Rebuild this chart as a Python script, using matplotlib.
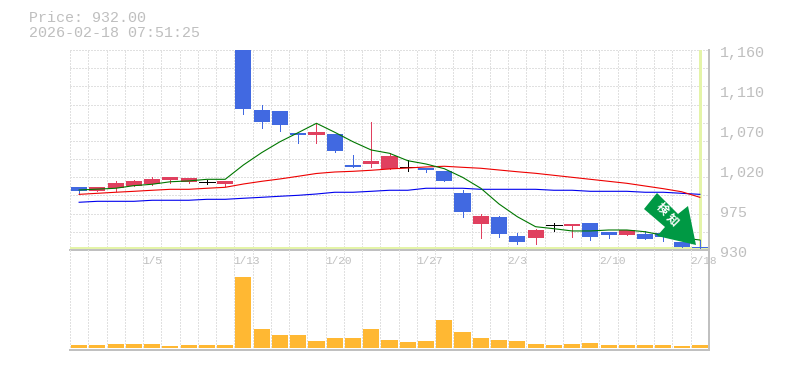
import matplotlib
matplotlib.use('Agg')
import matplotlib.pyplot as plt
from matplotlib.patches import Polygon

W, H = 785, 370

# open, close, high, low per day; the 1/13 candle runs off the top of the scale
opens = [1002, 998, 1001, 1004, 1006, 1010, 1008, 1008, 1006, 1160, 1091, 1090,
         1065, 1062, 1063, 1028, 1029, 1023, 1025, 1024, 1021, 996, 960, 968,
         946, 944, 959, 957.6, 961, 951, 947, 948, 950, 939, 934]
closes = [998, 1002, 1007, 1009, 1012, 1014, 1013, 1008, 1009, 1092, 1077, 1074,
          1062, 1066, 1044, 1025, 1032, 1038, 1025, 1022, 1009, 974, 969, 948,
          939, 953, 959, 960, 945, 947, 953, 943, 945, 933, 932]
highs = [1002, 1002, 1009, 1010, 1014, 1014, 1013, 1010, 1009, 1160, 1097, 1090,
         1065, 1076, 1063, 1039, 1077, 1042, 1033, 1024, 1021, 999, 971, 969,
         950, 954, 961, 960, 961, 951, 953, 952, 950, 939, 941]
lows = [994, 998, 998, 1004, 1005, 1007, 1007, 1006, 1004, 1086, 1070, 1067,
        1053, 1053, 1043, 1025, 1025, 1023, 1021, 1020, 1009, 968, 944, 945,
        937, 937, 952, 945, 941, 944, 947, 943, 940, 933, 932]

ma_short = [999, 1000, 1001, 1004, 1005.6, 1008.5, 1009.4, 1011.3, 1011.3, 1027.8,
            1042, 1054.5, 1065, 1075.7, 1065.4, 1054.5, 1045, 1041.2, 1032.7, 1028.9,
            1023.5, 1013.6, 1001, 982.9, 968.3, 956.8, 954.5, 951.9, 951.9, 953,
            953, 951, 946.8, 944, 941.5]
ma_mid = [994, 995.2, 996.4, 997.5, 998.7, 999.8, 999.8, 1001, 1002.1, 1005.9,
          1009, 1011.7, 1014.8, 1018, 1019.7, 1020.5, 1021.7, 1023.2, 1024.3, 1025.5,
          1026.3, 1025.1, 1024, 1022, 1020, 1018.2, 1015.9, 1013.6, 1011.3, 1009,
          1006.7, 1003.6, 1000.5, 997, 990.6]
ma_long = [984.9, 986, 986, 986, 987.2, 987.2, 987.2, 988.3, 988.3, 989.5,
           990.6, 991.8, 992.9, 994.4, 996.4, 996.4, 997.5, 998.7, 998.7, 1001,
           1001, 1001, 999.8, 999.8, 999.8, 999.8, 998.7, 998.7, 997.5, 997.5,
           997.5, 996.4, 996.4, 995.2, 994]

volumes = [3, 3, 4, 4, 4, 2, 3, 3, 3, 71, 19, 13, 13, 7, 10, 10, 19, 8, 6, 7,
           28, 16, 10, 8, 7, 4, 3, 4, 5, 3, 3, 3, 3, 2, 3]

date_labels = ['1/5', '1/13', '1/20', '1/27', '2/3', '2/10', '2/18']
date_slots = [4, 9, 14, 19, 24, 29, 34]
price_labels = ['1,160', '1,110', '1,070', '1,020', '975', '930']
price_ticks = [1160, 1114, 1068, 1022, 976, 930]
last_price = 932

UP = '#e0405f'
DOWN = '#4169e1'
GRID = '#e0e0e0'
AXIS = '#c0c0c0'
TEXT = '#bfbfbf'
MARK = '#e4f4a8'
FONT = 'Liberation Mono'
PX = 0.72  # one pixel in points at dpi 100


def rect(left, top, right, bottom):
    return [left / W, 1 - bottom / H, (right - left) / W, (bottom - top) / H]


def style_axes(ax):
    ax.set_xlim(0, len(opens))
    ax.set_xticks(range(len(opens) + 1))
    ax.tick_params(length=0, labelbottom=False, labelleft=False)
    ax.grid(True, color=GRID, lw=PX, ls=(0, (2, 2)), antialiased=False)
    ax.set_axisbelow(True)
    for side in ax.spines:
        ax.spines[side].set_visible(False)
    for side in ['right', 'bottom']:
        ax.spines[side].set_visible(True)
        ax.spines[side].set_color(AXIS)
        ax.spines[side].set_linewidth(2 * PX)


fig = plt.figure(figsize=(W / 100, H / 100), dpi=100)

ax = fig.add_axes(rect(70, 50, 709, 250))
style_axes(ax)
ax.set_ylim(930, 1160)
ax.set_yticks([930 + 230 * i / 11 for i in range(12)])

ax.axhline(last_price, color=MARK, lw=3 * PX, zorder=1, antialiased=False)
ax.axvline(34.5, color=MARK, lw=3 * PX, zorder=1, antialiased=False)

xs = [i + 0.5 for i in range(len(opens))]
for x, o, c, h, l in zip(xs, opens, closes, highs, lows):
    if o == c:
        ax.plot([x, x], [l, h], color='black', lw=PX, zorder=3, antialiased=False)
        ax.plot([x - 0.44, x + 0.44], [o, o], color='black', lw=PX, zorder=3, antialiased=False)
        continue
    col = UP if c > o else DOWN
    ax.plot([x, x], [l, h], color=col, lw=PX, zorder=3, antialiased=False)
    ax.bar(x, abs(c - o), bottom=min(o, c), width=0.88, color=col, zorder=3, antialiased=False)

ax.plot(xs, ma_long, color='#0000ee', lw=0.8, zorder=4)
ax.plot(xs, ma_mid, color='#ee0000', lw=0.8, zorder=4)
ax.plot(xs, ma_short, color='#007700', lw=0.8, zorder=4)

for label, tick in zip(price_labels, price_ticks):
    ax.annotate(label, (1, tick), xycoords=('axes fraction', 'data'),
                xytext=(8, -2.2), textcoords='offset points', va='center',
                family=FONT, fontsize=10.8, color=TEXT, clip_on=False)

vax = fig.add_axes(rect(70, 250, 709, 350))
style_axes(vax)
vax.set_ylim(-2, 98)
vax.set_yticks([])
vax.patch.set_alpha(0)
vax.bar(xs, volumes, width=0.88, color='#ffb833', zorder=3, antialiased=False)
vax.grid(False, axis='y')

for label, slot in zip(date_labels, date_slots):
    vax.annotate(label, (slot, 1), xycoords=('data', 'axes fraction'),
                 xytext=(-0.5, -8), textcoords='offset points', va='center', ha='left',
                 family=FONT, fontsize=8, color=TEXT, clip_on=False, zorder=6)

fig.text(29 / W, 1 - 18 / H, 'Price: 932.00', family=FONT, fontsize=10.8, color=TEXT, va='center')
fig.text(29 / W, 1 - 33 / H, '2026-02-18 07:51:25', family=FONT, fontsize=10.8, color=TEXT, va='center')

# arrow stamp, drawn in pixel coordinates on top of the panels
over = fig.add_axes([0, 0, 1, 1], zorder=10)
over.set_xlim(0, W)
over.set_ylim(H, 0)
over.axis('off')
arrow = [(657, 193), (644, 209), (665, 227), (657, 236), (696, 245), (688, 206), (678, 214)]
over.add_patch(Polygon(arrow, closed=True, fc='#009944', ec='none', zorder=5))
over.text(662, 209, '検', family='Noto Sans CJK JP', fontsize=8.5, fontweight='bold',
          color='white', rotation=-45, ha='center', va='center', zorder=6)
over.text(672, 220, '知', family='Noto Sans CJK JP', fontsize=8.5, fontweight='bold',
          color='white', rotation=-45, ha='center', va='center', zorder=6)

fig.savefig('out.png', dpi=100)
